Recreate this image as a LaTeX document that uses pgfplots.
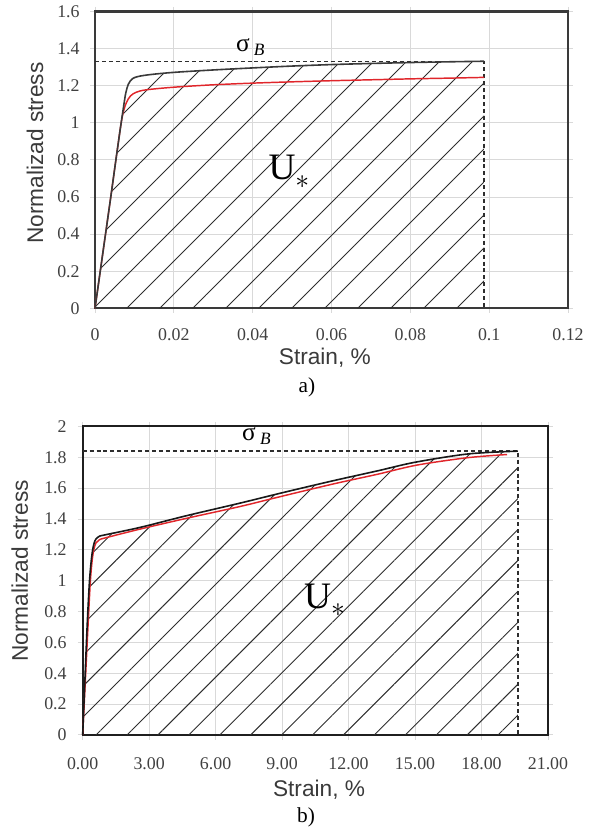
\documentclass[border=0pt]{standalone}
\usepackage{fontspec}
\setmainfont{Liberation Serif}
\newfontfamily\arial{Liberation Sans}
\usepackage{pgfplots}
\usepackage{pgfplotstable}
\pgfplotsset{compat=1.18}
\usetikzlibrary{patterns.meta}
\definecolor{framegray}{HTML}{3A3A3A}
\definecolor{gridgray}{HTML}{D9D9D9}
\definecolor{ticktext}{HTML}{404040}
\definecolor{curvered}{HTML}{E0262B}
\definecolor{hatchgray}{HTML}{2E2E2E}

% top panel a): strain in %, normalized stress
\pgfplotstableread{
x       y
0       0
0.002   0.30
0.004   0.60
0.0053  0.80
0.0065  0.98
0.0072  1.08
0.0078  1.16
0.0085  1.21
0.0095  1.238
0.011   1.250
0.014   1.260
0.020   1.272
0.030   1.285
0.040   1.296
0.050   1.306
0.060   1.314
0.070   1.320
0.080   1.325
0.090   1.329
0.0987  1.332
}\topblack
\pgfplotstableread{
x       y
0       0
0.002   0.30
0.004   0.60
0.0053  0.80
0.0065  0.98
0.0072  1.06
0.0080  1.11
0.0090  1.145
0.0105  1.165
0.013   1.178
0.020   1.192
0.030   1.205
0.040   1.214
0.050   1.221
0.060   1.227
0.070   1.232
0.080   1.237
0.090   1.241
0.0987  1.245
}\topred
% bottom panel b)
\pgfplotstableread{
x      y
0      0
0.10   0.35
0.20   0.70
0.30   0.98
0.38   1.12
0.45   1.20
0.52   1.245
0.60   1.270
0.75   1.288
1.00   1.297
2.60   1.346
4.70   1.422
7.10   1.503
9.00   1.570
11.30  1.648
13.30  1.712
15.00  1.768
17.40  1.822
19.64  1.840
}\botblack
\pgfplotstableread{
x      y
0      0
0.12   0.35
0.24   0.70
0.34   0.98
0.42   1.12
0.50   1.20
0.60   1.245
0.75   1.265
1.00   1.277
2.60   1.335
4.70   1.405
7.10   1.481
9.00   1.548
11.30  1.627
13.30  1.690
15.10  1.750
17.40  1.798
19.15  1.818
}\botred

\pgfplotsset{
  strain/.style={
    scale only axis, clip=false,
    axis line style={framegray, line width=1.7pt},
    grid=major, major grid style={gridgray, line width=0.75pt},
    tick align=outside, major tick length=3.5pt,
    tick style={gridgray, line width=0.75pt},
    tick label style={font=\fontsize{13.4}{14}\selectfont, color=ticktext,
      /pgf/number format/assume math mode=true},
    label style={font=\arial\fontsize{17}{17}\selectfont, color=framegray},
    every axis plot/.append style={no markers},
  },
  hatch/.style={draw=none, pattern={Lines[angle=45,distance=#1,line width=0.7pt]}, pattern color=hatchgray},
}
\tikzset{sigmab/.style={font=\fontsize{19}{19}\selectfont}}
\newcommand{\sigB}{σ\,\raisebox{-0.35ex}{\fontsize{13}{13}\selectfont\itshape B}}
\newcommand{\Ustar}{{\fontsize{28}{28}\selectfont U\raisebox{-0.5ex}{\fontsize{20}{20}\selectfont$\ast$}}}

\begin{document}
\begin{tikzpicture}
\path[use as bounding box] (0,0) rectangle (444pt,623.25pt);

\begin{axis}[
    strain,
    at={(71.25pt,392pt)}, anchor=south west,
    width=354.75pt, height=222.6pt,
    xmin=0, xmax=0.12, ymin=0, ymax=1.6,
    xtick={0,0.02,...,0.121}, ytick={0,0.2,...,1.61},
    scaled x ticks=false,
    xticklabel style={/pgf/number format/fixed, /pgf/number format/precision=2, yshift=-8pt},
    yticklabel style={xshift=-4.5pt},
    xlabel={Strain, \%}, ylabel={Normalizad stress},
    xlabel style={at={(axis description cs:0.486,-0.167)}, anchor=center},
    ylabel style={at={(axis description cs:-0.127,0.523)}, anchor=center, rotate=0},
]
\addplot[hatch=17.5pt] table {\topblack} \closedcycle;
\addplot[hatchgray, line width=1pt, dash pattern=on 3pt off 2.2pt] coordinates {(0,1.332) (0.0987,1.332) (0.0987,0)};
\addplot[curvered, line width=1.1pt, smooth] table {\topred};
\addplot[framegray, line width=1.2pt, smooth] table {\topblack};
\node[sigmab] at (axis cs:0.0394,1.408) {\sigB};
\node at (axis cs:0.0492,0.735) {\Ustar};
\node[font=\fontsize{16}{16}\selectfont] at (rel axis cs:0.448,-0.265) {a)};
\end{axis}

\begin{axis}[
    strain,
    at={(62pt,72pt)}, anchor=south west,
    width=349pt, height=231.4pt,
    xmin=0, xmax=21, ymin=0, ymax=2,
    xtick={0,3,...,21}, ytick={0,0.2,...,2.01},
    axis line style={black!88, line width=1.5pt},
    xticklabel style={/pgf/number format/fixed, /pgf/number format/fixed zerofill, /pgf/number format/precision=2, yshift=-10pt},
    yticklabel style={xshift=-5pt},
    xlabel={Strain, \%}, ylabel={Normalizad stress},
    xlabel style={at={(axis description cs:0.508,-0.178)}, anchor=center},
    ylabel style={at={(axis description cs:-0.135,0.532)}, anchor=center, rotate=0},
]
\addplot[hatch=16.4pt] table {\botblack} \closedcycle;
\addplot[hatchgray, line width=1pt, dash pattern=on 3pt off 2.2pt] coordinates {(0,1.84) (19.64,1.84) (19.64,0)};
\addplot[curvered, line width=1.1pt, smooth] table {\botred};
\addplot[black!90, line width=1.2pt, smooth] table {\botblack};
\node[sigmab] at (axis cs:7.84,1.935) {\sigB};
\node at (axis cs:10.92,0.873) {\Ustar};
\node[font=\fontsize{16}{16}\selectfont] at (rel axis cs:0.48,-0.266) {b)};
\end{axis}
\end{tikzpicture}
\end{document}
